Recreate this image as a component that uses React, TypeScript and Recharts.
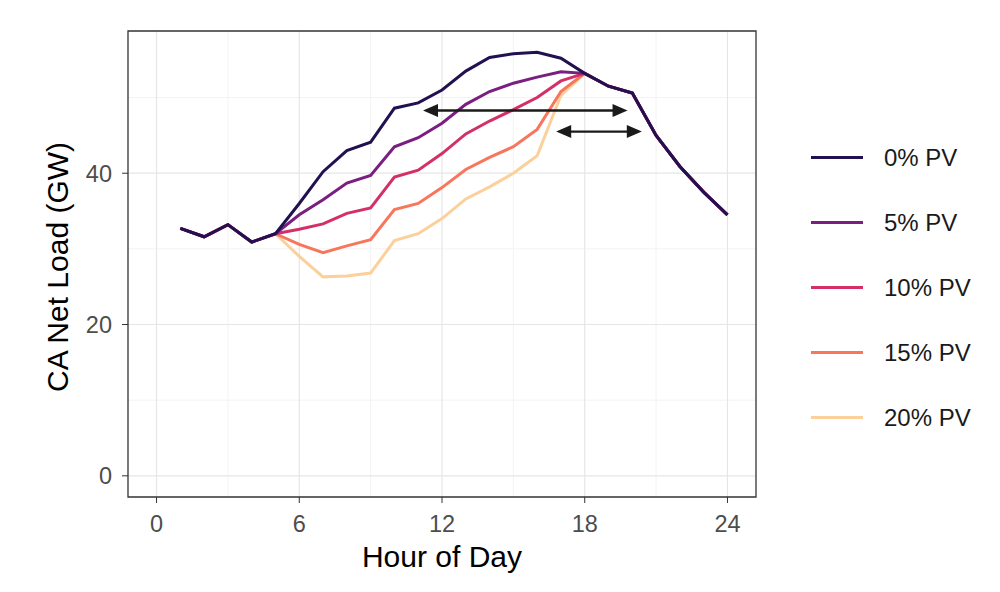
import React from 'react';
import {
  LineChart, Line, XAxis, YAxis, CartesianGrid, Legend,
  ReferenceLine, ReferenceArea,
} from 'recharts';

const HOURS = [1, 2, 3, 4, 5, 6, 7, 8, 9, 10, 11, 12, 13, 14, 15, 16, 17, 18, 19, 20, 21, 22, 23, 24];

const PV_0 = [32.7, 31.6, 33.2, 30.9, 32.0, 36.0, 40.2, 43.0, 44.1, 48.6, 49.3, 51.0, 53.5, 55.3, 55.8, 56.0, 55.2, 53.2, 51.5, 50.6, 45.0, 40.9, 37.5, 34.5];
const PV_5 = [32.7, 31.6, 33.2, 30.9, 32.0, 34.5, 36.5, 38.7, 39.7, 43.5, 44.7, 46.6, 49.1, 50.8, 51.9, 52.7, 53.4, 53.2, 51.5, 50.6, 45.0, 40.9, 37.5, 34.5];
const PV_10 = [32.7, 31.6, 33.2, 30.9, 32.0, 32.6, 33.3, 34.7, 35.4, 39.5, 40.4, 42.6, 45.2, 46.9, 48.4, 50.0, 52.2, 53.2, 51.5, 50.6, 45.0, 40.9, 37.5, 34.5];
const PV_15 = [32.7, 31.6, 33.2, 30.9, 32.0, 30.6, 29.5, 30.4, 31.2, 35.2, 36.0, 38.1, 40.5, 42.1, 43.5, 45.8, 50.8, 53.2, 51.5, 50.6, 45.0, 40.9, 37.5, 34.5];
const PV_20 = [32.7, 31.6, 33.2, 30.9, 32.0, 29.0, 26.3, 26.4, 26.8, 31.1, 32.0, 34.0, 36.6, 38.2, 40.0, 42.3, 50.3, 53.2, 51.5, 50.6, 45.0, 40.9, 37.5, 34.5];

const SERIES_NAMES = ['0% PV', '5% PV', '10% PV', '15% PV', '20% PV'];
const SERIES_KEYS = ['pv0', 'pv5', 'pv10', 'pv15', 'pv20'];
const SERIES_COLORS = ['#221150', '#7a1f80', '#d3306a', '#f7765c', '#fcd09a'];

const X_TICKS = [0, 6, 12, 18, 24];
const X_MINOR = [3, 9, 15, 21];
const Y_TICKS = [0, 20, 40];
const Y_MINOR = [10, 30, 50];
const X_DOMAIN = [-1.2, 25.2];
const Y_DOMAIN = [-2.8, 58.8];

// double-headed arrows (hour from, hour to, GW level)
const ARROWS = [
  { from: 11.2, to: 19.8, load: 48.3 },
  { from: 16.8, to: 20.4, load: 45.5 },
];

const FONT = '"Liberation Sans", Arial, Helvetica, sans-serif';

const rows = HOURS.map((hour, i) => ({
  hour,
  pv0: PV_0[i],
  pv5: PV_5[i],
  pv10: PV_10[i],
  pv15: PV_15[i],
  pv20: PV_20[i],
}));

const ArrowShape = (props: any) => {
  const { x1, y1, x2, y2 } = props;
  const left = Math.min(x1, x2);
  const right = Math.max(x1, x2);
  const y = y1 ?? y2;
  const head = 15;
  const half = 6.5;
  return (
    <g>
      <line x1={left + head - 2} y1={y} x2={right - head + 2} y2={y} stroke="#1a1a1a" strokeWidth={2.4} />
      <polygon points={`${left},${y} ${left + head},${y - half} ${left + head},${y + half}`} fill="#1a1a1a" />
      <polygon points={`${right},${y} ${right - head},${y - half} ${right - head},${y + half}`} fill="#1a1a1a" />
    </g>
  );
};

const YTitle = ({ viewBox }: any) => {
  const cx = viewBox.x + 57;
  const cy = viewBox.y + viewBox.height / 2 + 3;
  return (
    <text
      x={cx}
      y={cy}
      transform={`rotate(-90 ${cx} ${cy})`}
      textAnchor="middle"
      dominantBaseline="central"
      fill="#000"
      fontSize={30}
      fontFamily={FONT}
    >
      CA Net Load (GW)
    </text>
  );
};

const XTitle = ({ viewBox }: any) => (
  <text
    x={viewBox.x + viewBox.width / 2}
    y={viewBox.y + 70}
    textAnchor="middle"
    fill="#000"
    fontSize={30}
    fontFamily={FONT}
  >
    Hour of Day
  </text>
);

const LegendBox = ({ payload }: any) => {
  const items = [...(payload || [])].sort(
    (a: any, b: any) => SERIES_NAMES.indexOf(a.value) - SERIES_NAMES.indexOf(b.value),
  );
  return (
    <div style={{ fontFamily: FONT }}>
      {items.map((p: any) => (
        <div key={p.value} style={{ height: 65, display: 'flex', alignItems: 'center' }}>
          <div style={{ width: 52, height: 3.5, background: p.color, marginLeft: 6 }} />
          <span style={{ marginLeft: 21, fontSize: 24, color: '#1a1a1a' }}>{p.value}</span>
        </div>
      ))}
    </div>
  );
};

export default function App() {
  const drawOrder = [4, 3, 2, 1, 0];
  return (
    <div style={{ position: 'absolute', left: 0, top: 0, background: '#fff' }}>
      <LineChart
        width={1000}
        height={592}
        data={rows}
        margin={{ top: 31, right: 244, bottom: 0, left: 0 }}
      >
        <CartesianGrid
          stroke="#f3f3f3"
          strokeWidth={1}
          horizontalValues={Y_MINOR}
          verticalValues={X_MINOR}
        />
        <CartesianGrid
          stroke="#e6e6e6"
          strokeWidth={1.2}
          horizontalValues={Y_TICKS}
          verticalValues={X_TICKS}
        />
        <XAxis
          dataKey="hour"
          type="number"
          domain={X_DOMAIN}
          ticks={X_TICKS}
          allowDataOverflow
          height={95}
          axisLine={false}
          tickLine={{ stroke: '#333' }}
          tickSize={6}
          tickMargin={12}
          tick={{ fill: '#4d4d4d', fontSize: 23.5, fontFamily: FONT }}
          label={<XTitle />}
        />
        <YAxis
          type="number"
          domain={Y_DOMAIN}
          ticks={Y_TICKS}
          allowDataOverflow
          width={128}
          axisLine={false}
          tickLine={{ stroke: '#333' }}
          tickSize={6}
          tickMargin={10}
          tick={{ fill: '#4d4d4d', fontSize: 23.5, fontFamily: FONT }}
          label={<YTitle />}
        />
        {drawOrder.map((i) => (
          <Line
            key={SERIES_KEYS[i]}
            type="linear"
            dataKey={SERIES_KEYS[i]}
            name={SERIES_NAMES[i]}
            stroke={SERIES_COLORS[i]}
            strokeWidth={3}
            dot={false}
            activeDot={false}
            isAnimationActive={false}
          />
        ))}
        {ARROWS.map((a, i) => (
          <ReferenceLine
            key={i}
            segment={[{ x: a.from, y: a.load }, { x: a.to, y: a.load }]}
            ifOverflow="visible"
            shape={<ArrowShape />}
          />
        ))}
        <ReferenceArea
          x1={X_DOMAIN[0]}
          x2={X_DOMAIN[1]}
          y1={Y_DOMAIN[0]}
          y2={Y_DOMAIN[1]}
          fill="none"
          stroke="#333"
          strokeWidth={1.3}
          ifOverflow="visible"
        />
        <Legend
          layout="vertical"
          align="center"
          verticalAlign="middle"
          wrapperStyle={{ left: 805, top: 125, width: 190 }}
          content={<LegendBox />}
        />
      </LineChart>
    </div>
  );
}
